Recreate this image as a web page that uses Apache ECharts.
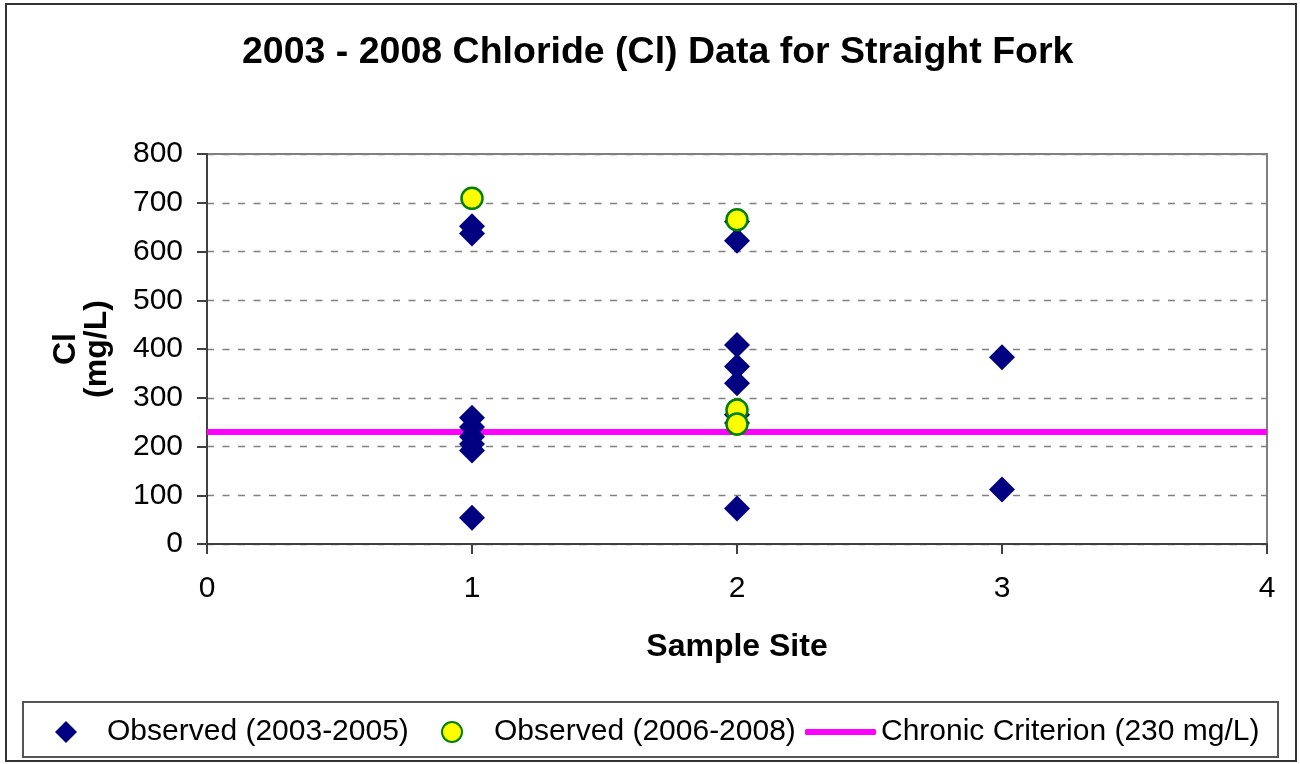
<!DOCTYPE html>
<html>
<head>
<meta charset="utf-8">
<title>2003 - 2008 Chloride (Cl) Data for Straight Fork</title>
<script src="https://cdn.jsdelivr.net/npm/echarts@6/dist/echarts.min.js"></script>
<style>
  html, body { margin: 0; padding: 0; background: #fff; }
  #chart { width: 1300px; height: 764px; }
</style>
</head>
<body>
<div id="chart"></div>
<script>
// sample sites and Cl values (mg/L)
const sites03 = [1, 1, 1, 1, 1, 1, 1, 1, 2, 2, 2, 2, 2, 2, 2, 2, 3, 3]
const cl03 = [652, 637, 259, 240, 220, 205, 192, 54, 661, 622, 408, 364, 330, 265, 248, 73, 383, 112]
const sites06 = [1, 2, 2, 2]
const cl06 = [709, 665, 275, 246]
const criterionX = [0, 4]
const criterion = 230
const xTicks = [0, 4, 1]   // min, max, interval
const yTicks = [0, 800, 100]

const names = ['Observed (2003-2005)', 'Observed (2006-2008)', 'Chronic Criterion (230 mg/L)']
const font = 'Arial, "Liberation Sans", sans-serif'

const zip = (xs, ys) => xs.map((x, i) => [x, ys[i]])

const chart = echarts.init(document.getElementById('chart'), null, { renderer: 'canvas' })

const legendText = (padLeft) => ({
  fontFamily: font, fontSize: 30, color: '#000', padding: [0, 0, 0, padLeft],
})

const options = {
  backgroundColor: '#fff',
  animation: false,
  title: {
    text: '2003 - 2008 Chloride (Cl) Data for Straight Fork',
    left: 237,
    top: 29,
    textStyle: { fontFamily: font, fontSize: 37.5, fontWeight: 'bold', color: '#000' },
  },
  grid: {
    left: 207, right: 33, top: 154, bottom: 220,
    show: true, borderColor: '#808080', borderWidth: 2,
    outerBoundsMode: 'none',
  },
  legend: [
    {
      data: [{ name: names[0], icon: 'diamond' }],
      left: 55, top: 717, padding: 0,
      itemWidth: 22, itemHeight: 22,
      textStyle: legendText(25),
    },
    {
      data: [{ name: names[1], icon: 'circle' }],
      left: 441, top: 717, padding: 0,
      itemWidth: 20, itemHeight: 20,
      itemStyle: { borderColor: '#008000', borderWidth: 2 },
      textStyle: legendText(27),
    },
    {
      data: [{ name: names[2], icon: 'roundRect' }],
      left: 805, top: 717, padding: 0,
      itemWidth: 71, itemHeight: 6,
      textStyle: legendText(0),
    },
  ],
  xAxis: {
    type: 'value',
    min: xTicks[0], max: xTicks[1], interval: xTicks[2],
    name: 'Sample Site',
    nameLocation: 'middle',
    nameGap: 87,
    nameTextStyle: { fontFamily: font, fontSize: 32, fontWeight: 'bold', color: '#000' },
    axisLine: { show: true, lineStyle: { color: '#404040', width: 2 } },
    axisTick: { show: true, inside: false, length: 10, lineStyle: { color: '#404040', width: 2 } },
    axisLabel: { margin: 30, fontFamily: font, fontSize: 30, color: '#000' },
    splitLine: { show: false },
  },
  yAxis: {
    type: 'value',
    min: yTicks[0], max: yTicks[1], interval: yTicks[2],
    name: 'Cl\n(mg/L)',
    nameLocation: 'middle',
    nameRotate: 90,
    nameGap: 94,
    nameTextStyle: { fontFamily: font, fontSize: 32, fontWeight: 'bold', color: '#000', lineHeight: 31 },
    axisLine: { show: true, lineStyle: { color: '#404040', width: 2 } },
    axisTick: { show: true, inside: false, length: 10, lineStyle: { color: '#404040', width: 2 } },
    axisLabel: { margin: 24, fontFamily: font, fontSize: 30, color: '#000' },
    splitLine: { show: true, lineStyle: { color: '#808080', width: 1.3, type: [7, 8.5] } },
  },
  series: [
    {
      name: names[2],
      type: 'line',
      data: zip(criterionX, criterionX.map(() => criterion)),
      symbol: 'none',
      z: 1,
      color: '#FF00FF',
      lineStyle: { color: '#FF00FF', width: 6 },
    },
    {
      name: names[0],
      type: 'scatter',
      data: zip(sites03, cl03),
      symbol: 'diamond',
      symbolSize: 26,
      z: 2,
      itemStyle: { color: '#000080', opacity: 1 },
    },
    {
      name: names[1],
      type: 'scatter',
      data: zip(sites06, cl06),
      symbol: 'circle',
      symbolSize: 21,
      z: 3,
      itemStyle: { color: '#FFFF00', borderColor: '#008000', borderWidth: 2.5, opacity: 1 },
    },
  ],
  graphic: [
    {
      type: 'rect',
      shape: { x: 6, y: 4, width: 1290, height: 757 },
      style: { fill: 'none', stroke: '#333', lineWidth: 2 },
      silent: true,
    },
    {
      type: 'rect',
      shape: { x: 23, y: 702, width: 1255, height: 55 },
      style: { fill: 'none', stroke: '#555', lineWidth: 2 },
      silent: true,
    },
  ],
}

chart.setOption(options)
window.addEventListener('resize', () => chart.resize())
</script>
</body>
</html>
